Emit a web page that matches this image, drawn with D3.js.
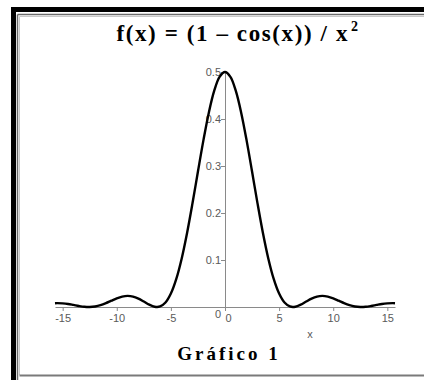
<!DOCTYPE html>
<html>
<head>
<meta charset="utf-8">
<script src="https://cdn.jsdelivr.net/npm/d3@7"></script>
<style>
  html, body { margin: 0; padding: 0; background: #fff; }
  svg { display: block; }
</style>
</head>
<body>
<svg id="chart" width="424" height="380"></svg>
<script>
// Sampled points of f(x) = (1 - cos x) / x^2 over [-5π, 5π]
const xValues = [
  -15.708, -15.5, -15, -14.5, -14, -13.5, -13, -12.5, -12, -11.5, -11, -10.5, -10,
  -9.5, -9, -8.5, -8, -7.5, -7, -6.5, -6, -5.5, -5, -4.5, -4, -3.5, -3, -2.5, -2,
  -1.5, -1, -0.5, 0, 0.5, 1, 1.5, 2, 2.5, 3, 3.5, 4, 4.5, 5, 5.5, 6, 6.5, 7, 7.5,
  8, 8.5, 9, 9.5, 10, 10.5, 11, 11.5, 12, 12.5, 13, 13.5, 14, 14.5, 15, 15.5, 15.708
];
const yValues = [
  0.0081, 0.0083, 0.0078, 0.0065, 0.0044, 0.0022, 0.0005, 0.0000, 0.0011, 0.0039, 0.0082, 0.0134, 0.0184,
  0.0221, 0.0236, 0.0222, 0.0179, 0.0116, 0.0050, 0.0006, 0.0011, 0.0096, 0.0287, 0.0598, 0.1034, 0.1581, 0.2211, 0.2882, 0.3540,
  0.4130, 0.4597, 0.4897, 0.5000, 0.4897, 0.4597, 0.4130, 0.3540, 0.2882, 0.2211, 0.1581, 0.1034, 0.0598, 0.0287, 0.0096, 0.0011, 0.0006, 0.0050, 0.0116,
  0.0179, 0.0222, 0.0236, 0.0221, 0.0184, 0.0134, 0.0082, 0.0039, 0.0011, 0.0000, 0.0005, 0.0022, 0.0044, 0.0065, 0.0078, 0.0083, 0.0081
];
const xTicks = [-15, -10, -5, 0, 5, 10, 15];
const xMinorTicks = [-15, -14, -13, -12, -11, -10, -9, -8, -7, -6, -5, -4, -3, -2, -1, 0,
  1, 2, 3, 4, 5, 6, 7, 8, 9, 10, 11, 12, 13, 14, 15];
const yTicks = [0, 0.1, 0.2, 0.3, 0.4, 0.5];
const yMinorTicks = [0.02, 0.04, 0.06, 0.08, 0.12, 0.14, 0.16, 0.18, 0.22, 0.24, 0.26, 0.28,
  0.32, 0.34, 0.36, 0.38, 0.42, 0.44, 0.46, 0.48];
const titleText = "f(x) = (1 \u2013 cos(x)) / x";
const captionText = "Gráfico 1";
const xAxisLabel = "x";

const svg = d3.select("#chart");

// Frame: heavy black edge on top/left, thin grey lines inside
const frame = svg.append("g");
frame.append("rect").attr("x", 11).attr("y", 7).attr("width", 413).attr("height", 5).attr("fill", "#000");
frame.append("rect").attr("x", 11).attr("y", 7).attr("width", 5).attr("height", 373).attr("fill", "#000");
frame.append("line").attr("x1", 17.5).attr("y1", 14.5).attr("x2", 424).attr("y2", 14.5)
  .attr("stroke", "#6a6a6a").attr("stroke-width", 1.5);
frame.append("line").attr("x1", 17.5).attr("y1", 14.5).attr("x2", 17.5).attr("y2", 380)
  .attr("stroke", "#6a6a6a").attr("stroke-width", 1.5);
frame.append("line").attr("x1", 19.5).attr("y1", 16.5).attr("x2", 424).attr("y2", 16.5)
  .attr("stroke", "#c8c8c8").attr("stroke-width", 1);
frame.append("line").attr("x1", 19.5).attr("y1", 16.5).attr("x2", 19.5).attr("y2", 375)
  .attr("stroke", "#c8c8c8").attr("stroke-width", 1);
frame.append("line").attr("x1", 19.5).attr("y1", 375.5).attr("x2", 424).attr("y2", 375.5)
  .attr("stroke", "#7a7a7a").attr("stroke-width", 2);

// Scales
const x = d3.scaleLinear().domain([-15.708, 15.708]).range([55, 395]);
const y = d3.scaleLinear().domain([0, 0.5]).range([307, 72]);

const axisColor = "#8a8a8a";
const labelColor = "#5a5a5a";
const labelFont = "'Liberation Sans', Arial, sans-serif";

// X axis through y = 0
const xAxisG = svg.append("g").attr("transform", `translate(0,${y(0)})`);
xAxisG.call(d3.axisBottom(x).tickValues(xMinorTicks).tickSize(2).tickFormat("").tickSizeOuter(0));
xAxisG.call(d3.axisBottom(x).tickValues(xTicks).tickSize(4).tickPadding(3).tickSizeOuter(0)
  .tickFormat(d3.format("d")));
xAxisG.selectAll("path.domain").attr("stroke", axisColor);
xAxisG.selectAll("line").attr("stroke", axisColor);
xAxisG.selectAll("text")
  .attr("fill", labelColor).style("font-family", labelFont).style("font-size", "11px")
  .text(d => d < 0 ? "-" + Math.abs(d) : d)
  .attr("dx", d => d === 0 ? 3 : 0);

// Y axis through x = 0
const yAxisG = svg.append("g").attr("transform", `translate(${x(0)},0)`);
yAxisG.call(d3.axisLeft(y).tickValues(yMinorTicks).tickSize(2).tickFormat("").tickSizeOuter(0));
yAxisG.call(d3.axisLeft(y).tickValues(yTicks).tickSize(4).tickPadding(0).tickSizeOuter(0)
  .tickFormat(d3.format(".1~f")));
yAxisG.selectAll("path.domain").attr("stroke", axisColor);
yAxisG.selectAll("line").attr("stroke", axisColor);
yAxisG.selectAll("text")
  .attr("fill", labelColor).style("font-family", labelFont).style("font-size", "11px")
  .attr("dy", d => d === 0 ? "0.95em" : "0.32em")
  .attr("x", -4);

// X axis name
svg.append("text")
  .attr("x", x(7.85)).attr("y", 338)
  .attr("text-anchor", "middle")
  .attr("fill", labelColor).style("font-family", labelFont).style("font-size", "11px")
  .text(xAxisLabel);

// Curve
const points = xValues.map((v, i) => [v, yValues[i]]);
svg.append("path")
  .datum(points)
  .attr("fill", "none")
  .attr("stroke", "#000")
  .attr("stroke-width", 2.4)
  .attr("stroke-linejoin", "round")
  .attr("d", d3.line().x(d => x(d[0])).y(d => y(d[1])).curve(d3.curveCatmullRom.alpha(0.5)));

// Title
const title = svg.append("text")
  .attr("x", 238).attr("y", 41)
  .attr("text-anchor", "middle")
  .style("font-family", "'Liberation Serif', 'Times New Roman', serif")
  .style("font-weight", "bold")
  .style("font-size", "23px")
  .style("letter-spacing", "1.6px")
  .attr("fill", "#000");
title.append("tspan").text(titleText);
title.append("tspan").attr("dx", 2).attr("dy", -10).style("font-size", "14px").text("2");

// Caption
svg.append("text")
  .attr("x", 229).attr("y", 360)
  .attr("text-anchor", "middle")
  .style("font-family", "'Liberation Serif', 'Times New Roman', serif")
  .style("font-weight", "bold")
  .style("font-size", "19px")
  .style("letter-spacing", "3px")
  .attr("fill", "#000")
  .text(captionText);
</script>
</body>
</html>
